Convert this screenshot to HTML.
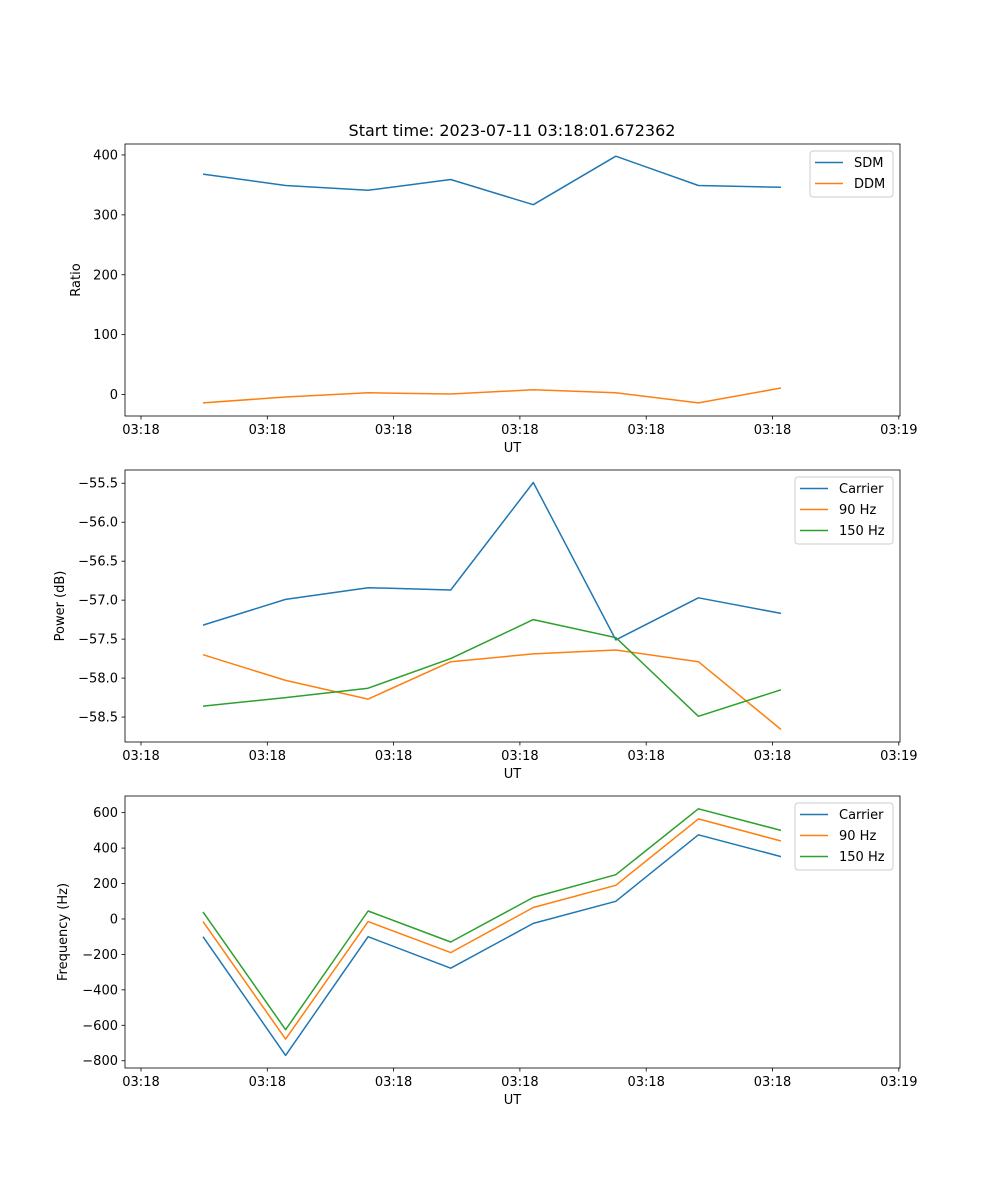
<!DOCTYPE html>
<html><head><meta charset="utf-8"><style>
html,body{margin:0;padding:0;background:#fff}
svg{display:block;font-family:"DejaVu Sans","Liberation Sans",sans-serif}
</style></head><body>
<svg id="fig" width="1000" height="1200" viewBox="0 0 1000 1200" xmlns="http://www.w3.org/2000/svg"></svg>
<script>
const xTickLabels = ["03:18","03:18","03:18","03:18","03:18","03:18","03:19"];
const sdm = [368,349,341,359,317,398,349,346];
const ddm = [-14,-4,3,1,8,3,-14,11];
const pCarrier = [-57.32,-56.99,-56.84,-56.87,-55.49,-57.51,-56.97,-57.17];
const p90 = [-57.70,-58.03,-58.27,-57.79,-57.69,-57.64,-57.79,-58.66];
const p150 = [-58.36,-58.25,-58.13,-57.75,-57.25,-57.48,-58.49,-58.15];
const fCarrier = [-100,-770,-100,-278,-25,100,475,352];
const f90 = [-15,-678,-15,-190,65,190,565,440];
const f150 = [40,-625,45,-130,122,250,622,500];
const ticks1 = [0,100,200,300,400];
const ticks2 = [-58.5,-58.0,-57.5,-57.0,-56.5,-56.0,-55.5];
const ticks3 = [-800,-600,-400,-200,0,200,400,600];

const C = ["#1f77b4","#ff7f0e","#2ca02c"];
const NS = "http://www.w3.org/2000/svg";
const svg = document.getElementById("fig");
function el(t, a, parent){const e=document.createElementNS(NS,t);for(const k in a)e.setAttribute(k,a[k]);(parent||svg).appendChild(e);return e;}
const L=125, R=900;
const xData = i => 203 + i*82.57;
const xTick = j => 141 + j*126.3;

function panel(name, top, bot, ymin, ymax, ticks, fmt, ylabel, series, names, legendX, legendW){
  const g = el("g",{});
  
  
  const y = v => bot - (v-ymin)/(ymax-ymin)*(bot-top);
  series.forEach((s,k)=>{
    const p = el("polyline",{points:s.map((v,i)=>xData(i).toFixed(1)+","+y(v).toFixed(1)).join(" "),fill:"none",stroke:C[k],"stroke-width":1.5,"stroke-linejoin":"round"},g);
    
    
  });
  el("rect",{x:L,y:top,width:R-L,height:bot-top,fill:"none",stroke:"#000","stroke-width":0.8},g);
  ticks.forEach(t=>{
    const yy=y(t);
    el("line",{x1:L-3.5,x2:L,y1:yy,y2:yy,stroke:"#000","stroke-width":0.8},g);
    const tx=el("text",{x:L-7,y:yy+4.5,"text-anchor":"end","font-size":13},g);
    tx.textContent=fmt(t).replace("-","\u2212");
    
    
  });
  xTickLabels.forEach((lb,j)=>{
    const xx=xTick(j);
    el("line",{x1:xx,x2:xx,y1:bot,y2:bot+3.5,stroke:"#000","stroke-width":0.8},g);
    const tx=el("text",{x:xx,y:bot+18,"text-anchor":"middle","font-size":13},g);
    tx.textContent=lb;
    
    
  });
  const xl=el("text",{x:(L+R)/2,y:bot+36,"text-anchor":"middle","font-size":13},g);
  xl.textContent="UT";
  
  
  const yl=el("text",{x:0,y:0,"text-anchor":"middle","font-size":13,transform:`translate(${ylabel[1]},${(top+bot)/2}) rotate(-90)`},g);
  yl.textContent=ylabel[0];
  
  
  const lh = 4 + names.length*21;
  const lg = el("g",{},g);
  
  
  el("rect",{x:legendX,y:top+7,width:legendW,height:lh,rx:3,fill:"#fff","fill-opacity":0.8,stroke:"#ccc","stroke-width":1},lg);
  names.forEach((n,k)=>{
    const yy=top+18.5+k*21;
    el("line",{x1:legendX+5,x2:legendX+33,y1:yy,y2:yy,stroke:C[k],"stroke-width":1.5},lg);
    const t=el("text",{x:legendX+44,y:yy+4.5,"font-size":13},lg);
    t.textContent=n;
    
    
  });
}
const title=el("text",{x:512,y:136,"text-anchor":"middle","font-size":16});
title.textContent="Start time: 2023-07-11 03:18:01.672362";



panel("ratio-panel",144,416,-35.8,418.3,ticks1,v=>String(v),["Ratio",80],[sdm,ddm],["SDM","DDM"],810,83);
panel("power-panel",470,742,-58.82,-55.33,ticks2,v=>v.toFixed(1),["Power (dB)",64],[pCarrier,p90,p150],["Carrier","90 Hz","150 Hz"],795,98);
panel("frequency-panel",796,1068,-841,694,ticks3,v=>String(v),["Frequency (Hz)",67],[fCarrier,f90,f150],["Carrier","90 Hz","150 Hz"],795,98);
</script>
</body></html>
